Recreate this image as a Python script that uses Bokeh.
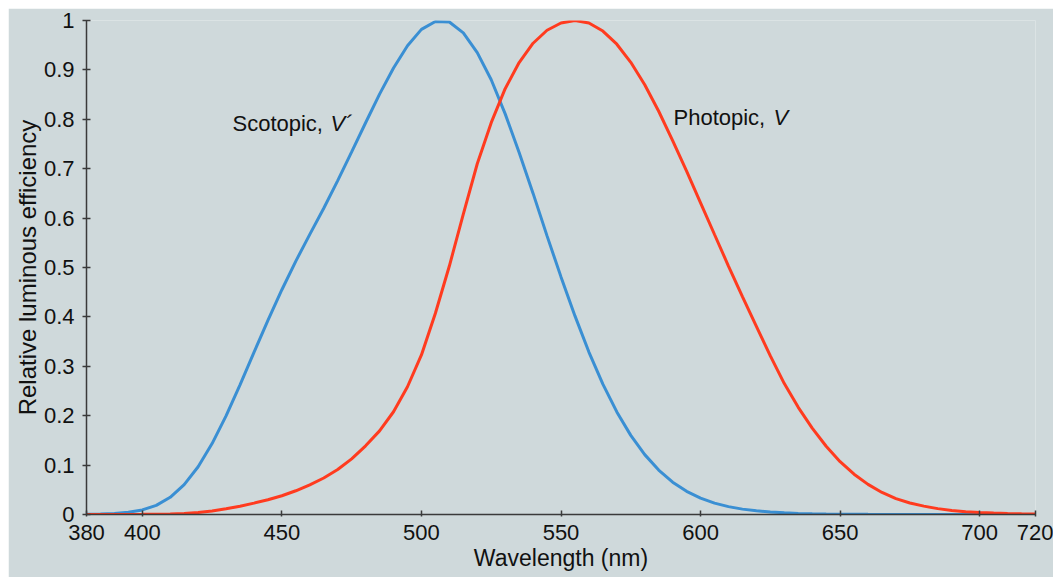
from bokeh.plotting import figure
from bokeh.models import Range1d, FixedTicker, ColumnDataSource, Label
from bokeh.embed import file_html
from bokeh.resources import INLINE

wavelength = list(range(380, 725, 5))

photopic = [0.000039, 0.000064, 0.00012, 0.000217, 0.000396, 0.00064, 0.00121, 0.00218,
            0.004, 0.0073, 0.0116, 0.01684, 0.023, 0.0298, 0.038, 0.048, 0.06, 0.0739,
            0.091, 0.1126, 0.139, 0.1693, 0.208, 0.2586, 0.323, 0.4073, 0.503, 0.6082,
            0.71, 0.7932, 0.862, 0.9149, 0.954, 0.9803, 0.995, 1.0, 0.995, 0.9786,
            0.952, 0.9154, 0.87, 0.8163, 0.757, 0.6949, 0.631, 0.5668, 0.503, 0.4412,
            0.381, 0.321, 0.265, 0.217, 0.175, 0.1382, 0.107, 0.0816, 0.061, 0.0446,
            0.032, 0.0232, 0.017, 0.0119, 0.0082, 0.0057, 0.0041, 0.0029, 0.0021,
            0.0015, 0.001]

scotopic = [0.000589, 0.001108, 0.002209, 0.00453, 0.00929, 0.01852, 0.03484, 0.0604,
            0.0966, 0.1436, 0.1998, 0.2625, 0.3281, 0.3931, 0.455, 0.513, 0.567, 0.62,
            0.676, 0.734, 0.793, 0.851, 0.904, 0.949, 0.982, 0.998, 0.997, 0.975,
            0.935, 0.88, 0.811, 0.733, 0.65, 0.564, 0.481, 0.402, 0.3288, 0.2639,
            0.2076, 0.1602, 0.1212, 0.0899, 0.0655, 0.0469, 0.0332, 0.0231, 0.0159,
            0.0109, 0.0074, 0.005, 0.0033, 0.0022, 0.0015, 0.001, 0.0007, 0.0005,
            0.0003, 0.0002, 0.0001, 0.0001, 0.0, 0.0, 0.0, 0.0, 0.0, 0.0, 0.0, 0.0, 0.0]

x_ticks = [380, 400, 450, 500, 550, 600, 650, 700, 720]
y_ticks = [0, 0.1, 0.2, 0.3, 0.4, 0.5, 0.6, 0.7, 0.8, 0.9, 1]
y_tick_labels = {0: "0", 0.1: "0.1", 0.2: "0.2", 0.3: "0.3", 0.4: "0.4", 0.5: "0.5",
                 0.6: "0.6", 0.7: "0.7", 0.8: "0.8", 0.9: "0.9", 1: "1"}

x_title = "Wavelength (nm)"
y_title = "Relative luminous efficiency"

BG = "#cfd9db"
FONT = "Liberation Sans"

src = ColumnDataSource(dict(x=wavelength, p=photopic, s=scotopic))

p = figure(width=1045, height=569, output_backend="svg", toolbar_location=None,
           x_range=Range1d(380, 720), y_range=Range1d(0, 1),
           background_fill_color=BG, border_fill_color=BG,
           min_border_left=78, min_border_right=18, min_border_top=12, min_border_bottom=63)
p.margin = (8, 0, 0, 8)
p.outline_line_color = None
p.xgrid.visible = False
p.ygrid.visible = False

p.line("x", "s", source=src, line_color="#3a8fd3", line_width=3)
p.line("x", "p", source=src, line_color="#ff3b1f", line_width=3)

for ax in (p.xaxis[0], p.yaxis[0]):
    ax.axis_line_color = "#3a3a3a"
    ax.axis_line_width = 1.5
    ax.major_tick_line_color = "#3a3a3a"
    ax.major_tick_line_width = 1.5
    ax.minor_tick_line_color = None
    ax.major_label_text_font = FONT
    ax.major_label_text_font_size = "22px"
    ax.major_label_text_color = "#111111"
    ax.axis_label_text_font = FONT
    ax.axis_label_text_font_style = "normal"
    ax.axis_label_text_color = "#111111"

p.xaxis.axis_label = x_title
p.yaxis.axis_label = y_title
p.xaxis.axis_label_text_font_size = "23px"
p.yaxis.axis_label_text_font_size = "24px"
p.xaxis.ticker = FixedTicker(ticks=x_ticks)
p.yaxis.ticker = FixedTicker(ticks=y_ticks)
p.yaxis.major_label_overrides = y_tick_labels
p.xaxis.major_tick_in = 4
p.xaxis.major_tick_out = 2
p.yaxis.major_tick_in = 4
p.yaxis.major_tick_out = 4
p.xaxis.major_label_standoff = 8
p.yaxis.major_label_standoff = 8
p.xaxis.axis_label_standoff = 2
p.yaxis.axis_label_standoff = 0

def add_label(x, y, txt, style):
    p.add_layout(Label(x=x, y=y, x_units="data", y_units="data", text=txt,
                       text_font=FONT, text_font_size="22px", text_font_style=style,
                       text_color="#111111", text_baseline="alphabetic", text_align="left"))

add_label(432.3, 0.7915, "Scotopic,", "normal")
add_label(467.4, 0.7915, "V´", "italic")
add_label(590.3, 0.8036, "Photopic,", "normal")
add_label(626.1, 0.8036, "V", "italic")

open("out.html", "w").write(file_html(p, INLINE))
